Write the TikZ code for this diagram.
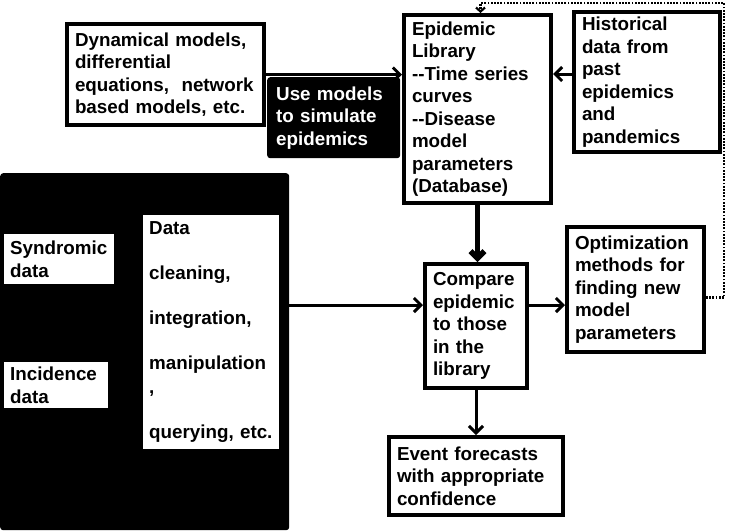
\documentclass[tikz,border=0pt]{standalone}
\usepackage{fontspec}
\setmainfont{Liberation Sans}
\usepackage{tikz}
\usetikzlibrary{arrows.meta, positioning, calc}

\begin{document}
\begin{tikzpicture}[x=1pt, y=-1pt,
  box/.style={draw, line width=4pt, fill=white, anchor=north west, align=left,
    inner xsep=8pt, inner ysep=2pt, font=\fontsize{18.8}{22.5}\selectfont\bfseries},
  plain/.style={fill=white, anchor=north west, align=left, inner xsep=6pt, inner ysep=2pt,
    font=\fontsize{18.8}{22.5}\selectfont\bfseries},
  panel/.style={fill=black, anchor=north west, rounded corners=3pt, inner sep=0pt},
  arr/.style={-{Straight Barb[length=7pt,width=14pt]}, line width=3pt},
  feedback/.style={-{Straight Barb[length=4pt,width=9pt]}, line width=2.2pt,
    dash pattern=on 1.8pt off 1.4pt}]
\useasboundingbox (0,0) rectangle (731,531);

% Data sources panel
\node[panel, minimum width=289, minimum height=357] (sources) at (0,173) {};
\node[plain, text width=98, minimum height=50] (synd) at (4,234) {Syndromic\\data};
\node[plain, text width=92, minimum height=46] (incid) at (4,362) {Incidence\\data};
\node[plain, text width=124, minimum height=234] (clean) at (143,215)
  {Data\\[23pt]cleaning,\\[22pt]integration,\\[23pt]manipulation\\[1pt],\\[23pt]querying, etc.};

% Models and library
\node[box, text width=181, minimum height=101] (dyn) at (65,22)
  {Dynamical models,\\differential\\equations,\ \ network\\based models, etc.};
\node[panel, plain, fill=black, text=white, inner xsep=9pt, text width=115, minimum height=81] (usemod) at (267,77)
  {Use models\\to simulate\\epidemics};
\node[box, text width=131, minimum height=188] (lib) at (402,13)
  {Epidemic\\Library\\{-}{-}Time series\\curves\\{-}{-}Disease\\model\\parameters\\(Database)};
\node[box, text width=130, minimum height=140] (hist) at (572,10)
  {Historical\\data from\\past\\epidemics\\and\\pandemics};

% Comparison and forecasting
\node[box, text width=86, minimum height=124] (cmp) at (423,262)
  {Compare\\epidemic\\to those\\in the\\library};
\node[box, text width=121, minimum height=125] (opt) at (565,225)
  {Optimization\\methods for\\finding new\\model\\parameters};
\node[box, text width=158, minimum height=78] (evt) at (387,435)
  {Event forecasts\\with appropriate\\confidence};

% Connectors
\draw[arr] (dyn.east) -- (dyn.east -| lib.west);
\draw[arr] ([yshift=8pt]hist.west) -- ([yshift=8pt]hist.west -| lib.east);
\draw[arr, line width=5.5pt] (lib.south) -- (lib.south |- cmp.north);
\coordinate (cmpin) at ([yshift=21pt]cmp.west);
\draw[arr] (sources.east |- cmpin) -- (cmpin);
\draw[arr] ([yshift=21pt]cmp.east) -- ([yshift=21pt]cmp.east -| opt.west);
\draw[arr] (cmp.south) -- (cmp.south |- evt.north);
\coordinate (loop) at (724,3);
\draw[feedback] ([yshift=-8pt]opt.east) -| (loop) -| ([xshift=3pt]lib.north);
\end{tikzpicture}
\end{document}
